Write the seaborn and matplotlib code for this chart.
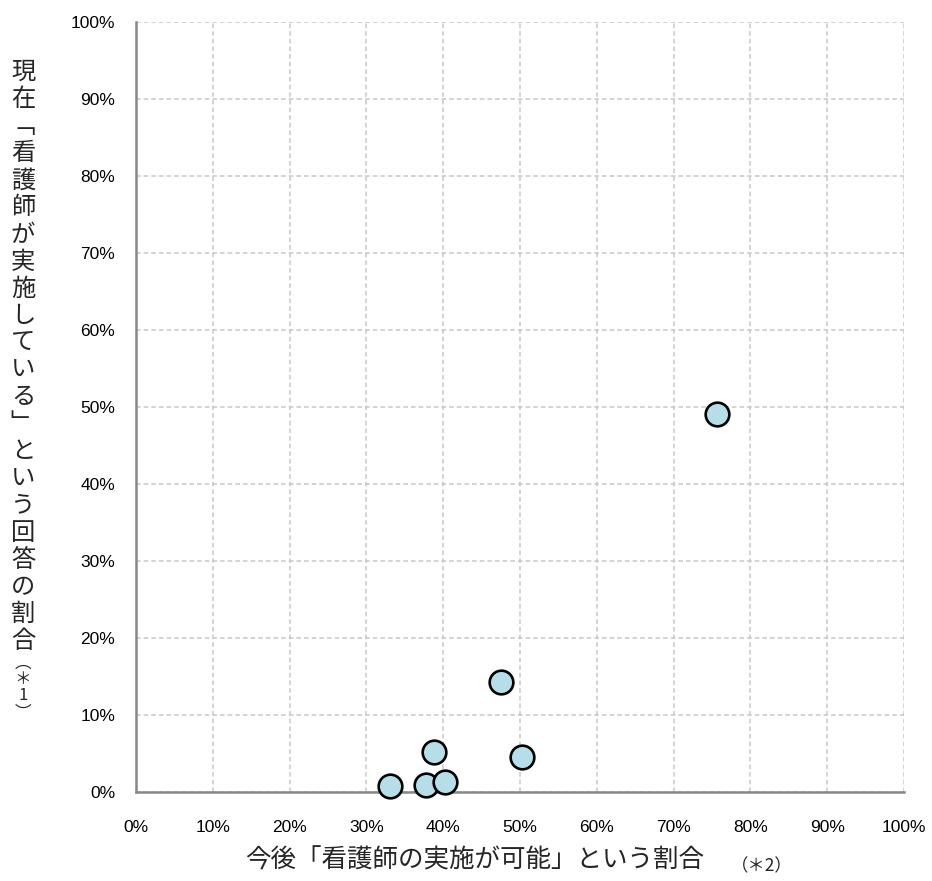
import numpy as np
import pandas as pd
import matplotlib.pyplot as plt
import seaborn as sns

# values in percent
possible_pct = [33.1, 37.8, 40.2, 38.8, 50.3, 47.5, 75.7]   # x: 今後「看護師の実施が可能」
current_pct = [0.8, 0.9, 1.3, 5.2, 4.5, 14.3, 49.1]          # y: 現在「看護師が実施している」
tick_vals = list(range(0, 101, 10))
tick_labels = [f"{v}%" for v in tick_vals]

y_main = "現在﹁看護師が実施している﹂という回答の割合"
y_note = "︵＊1︶"
x_main = "今後「看護師の実施が可能」という割合"
x_note = "（＊2）"


def main():
    sns.set_style("white")
    plt.rcParams['font.family'] = ['Noto Sans CJK JP', 'DejaVu Sans']

    df = pd.DataFrame({"possible": possible_pct, "current": current_pct})

    W, H = 932, 881
    fig = plt.figure(figsize=(W / 100, H / 100), dpi=100)
    ax = fig.add_axes([136 / W, 1 - 792 / H, 768 / W, 770 / H])

    sns.scatterplot(data=df, x="possible", y="current", ax=ax,
                    s=290, color="#b7dde8", edgecolor="black", linewidth=1.9,
                    zorder=3, clip_on=False)

    ax.set_xlim(0, 100)
    ax.set_ylim(0, 100)
    ax.set_xticks(tick_vals)
    ax.set_xticklabels(tick_labels, fontsize=12.5, family=['Liberation Sans'], color="black")
    ax.set_yticks(tick_vals)
    ax.set_yticklabels(tick_labels, fontsize=12.5, family=['Liberation Sans'], color="black")
    ax.set_xlabel("")
    ax.set_ylabel("")

    ax.grid(True, color="#c8c8c8", linestyle=(0, (3, 2)), linewidth=1.1)
    ax.set_axisbelow(True)
    for side in ["top", "right"]:
        ax.spines[side].set_visible(False)
    for side in ["left", "bottom"]:
        ax.spines[side].set_color("#888888")
        ax.spines[side].set_linewidth(1.8)
    ax.tick_params(axis="both", direction="out", length=5, width=1.8, color="#888888")
    ax.tick_params(axis="x", pad=15)
    ax.tick_params(axis="y", pad=10)

    # stacked vertical y label, one character per line
    step = 27.1
    for i, ch in enumerate(y_main):
        fig.text(23 / W, 1 - (72 + i * step) / H, ch, fontsize=17.5, ha="center", va="center")
    note_y = [663, 680, 696, 713]
    for ch, yy in zip(y_note, note_y):
        fig.text(23 / W, 1 - yy / H, ch, fontsize=12, ha="center", va="center")

    fig.text(475 / W, 1 - 860 / H, x_main, fontsize=18.4, ha="center", va="center")
    fig.text(762 / W, 1 - 866 / H, x_note, fontsize=12.5, ha="center", va="center",
             family=['Noto Sans CJK JP', 'DejaVu Sans'])

    fig.savefig("out.png", dpi=100)


if __name__ == "__main__":
    main()
